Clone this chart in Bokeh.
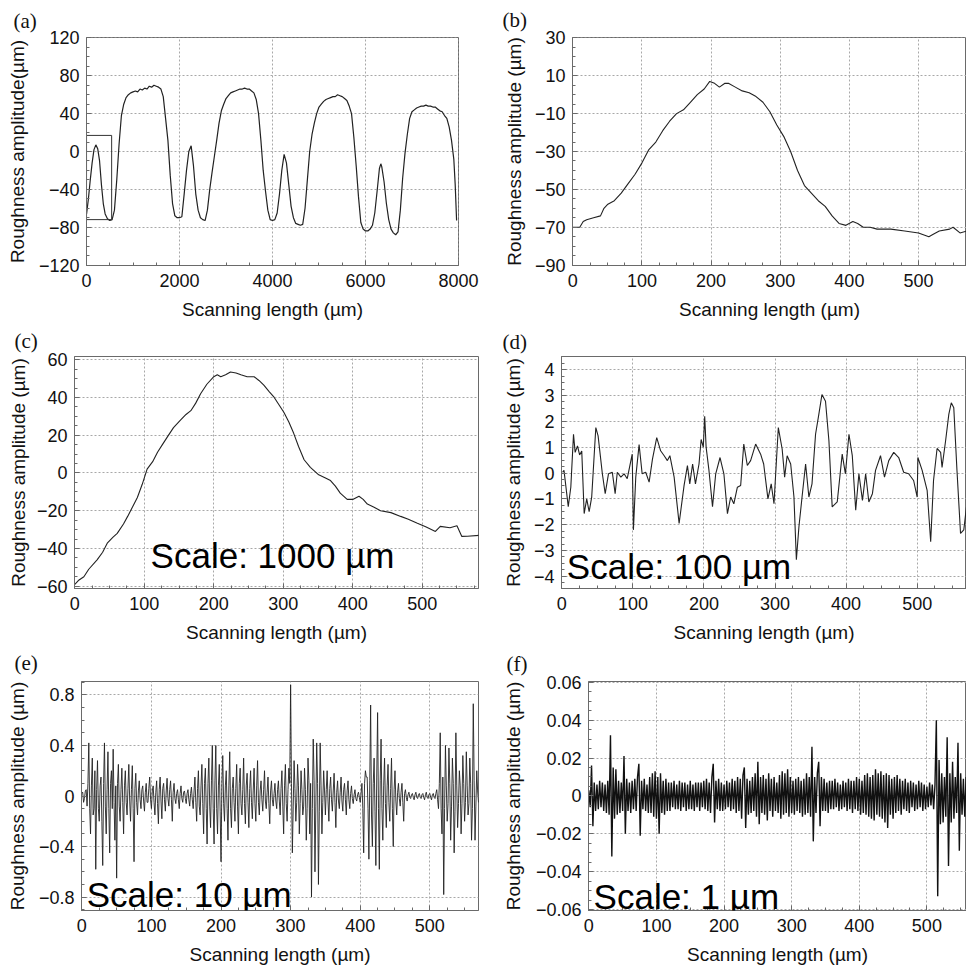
import numpy as np
from bokeh.plotting import figure
from bokeh.layouts import row, column
from bokeh.models import FixedTicker, Label, Range1d
from bokeh.embed import file_html
from bokeh.resources import INLINE

# ---------------- data ----------------
# (a) full profile, 0-8000 um
a_x = [0, 40, 80, 120, 160, 200, 240, 280, 320, 360, 400, 450, 500, 550, 600, 650, 700, 750, 800, 850,
       900, 950, 1000, 1050, 1100, 1150, 1200, 1250, 1300, 1350, 1400, 1450, 1500, 1550, 1600, 1650, 1700, 1750, 1800, 1850,
       1900, 1950, 2000, 2050, 2100, 2150, 2200, 2250, 2300, 2350, 2400, 2450, 2500, 2550, 2600, 2650, 2700, 2750, 2800, 2850,
       2900, 2950, 3000, 3050, 3100, 3150, 3200, 3250, 3300, 3350, 3400, 3450, 3500, 3550, 3600, 3650, 3700, 3750, 3800, 3850,
       3900, 3950, 4000, 4050, 4100, 4150, 4200, 4250, 4300, 4350, 4400, 4450, 4500, 4550, 4600, 4650, 4700, 4750, 4800, 4850,
       4900, 4950, 5000, 5050, 5100, 5150, 5200, 5250, 5300, 5350, 5400, 5450, 5500, 5550, 5600, 5650, 5700, 5750, 5800, 5850,
       5900, 5950, 6000, 6050, 6100, 6150, 6200, 6250, 6300, 6330, 6350, 6400, 6450, 6500, 6550, 6600, 6650, 6700, 6750, 6800,
       6850, 6900, 6950, 7000, 7050, 7100, 7150, 7200, 7250, 7300, 7350, 7400, 7450, 7500, 7550, 7600, 7650, 7700, 7750, 7800,
       7850, 7900, 7930, 7960]
a_y = [-66, -50, -30, -12, 2, 7, 3, -10, -35, -55, -66, -71, -73, -72, -62, -30, 8, 38, 50, 57,
       60, 62, 63, 64, 63, 66, 65, 67, 66, 69, 68, 70, 69, 68, 66, 58, 35, 12, -25, -55,
       -68, -70, -70, -69, -45, -20, 0, 6, -15, -45, -62, -70, -72, -73, -62, -40, -22, -5, 12, 30,
       43, 50, 56, 59, 62, 63, 64, 65, 66, 66, 67, 66, 66, 64, 62, 55, 40, 12, -20, -42,
       -62, -72, -73, -72, -65, -45, -20, -3, -12, -35, -58, -70, -76, -77, -78, -77, -60, -30, 0, 18,
       30, 40, 47, 50, 53, 55, 56, 57, 58, 58, 60, 59, 58, 56, 54, 48, 40, 15, -15, -48,
       -75, -82, -84, -84, -82, -78, -65, -42, -18, -13, -16, -32, -55, -72, -82, -86, -88, -85, -62, -28,
       -2, 18, 35, 42, 44, 46, 47, 48, 48, 49, 48, 48, 47, 47, 45, 43, 42, 38, 35, 26,
       12, -8, -35, -73]
a_box_x = [0, 540]
a_box_y = [-72, 17]
a_xticks = [0, 2000, 4000, 6000, 8000]
a_yticks = [-120, -80, -40, 0, 40, 80, 120]

# (b) zoomed profile
b_x = [0, 10, 15, 20, 30, 40, 45, 50, 60, 70, 80, 90, 100, 110, 120, 130, 140, 150, 160, 170,
       180, 190, 198, 205, 212, 220, 225, 235, 245, 255, 265, 275, 285, 295, 305, 315, 325, 335, 345, 355,
       365, 375, 385, 395, 405, 412, 420, 430, 440, 460, 480, 500, 515, 520, 530, 545, 550, 560, 570]
b_y = [-70, -70, -67, -66, -65, -64, -60, -58, -56, -52, -47, -42, -36, -29, -25, -19, -14, -10, -8, -4,
       0, 3, 7, 6, 4, 6, 6, 4, 2, 1, -1, -4, -9, -16, -22, -30, -40, -48, -52, -56,
       -59, -64, -68, -69, -67, -68, -70, -70, -71, -71, -72, -73, -75, -74, -72, -71, -70, -73, -72]
b_xticks = [0, 100, 200, 300, 400, 500]
b_yticks = [-90, -70, -50, -30, -10, 10, 30]

# (c) scale 1000 um
c_x = [0, 5, 13, 20, 32, 40, 47, 55, 61, 70, 76, 83, 90, 97, 104, 112, 119, 126, 133, 142,
       152, 160, 167, 174, 181, 190, 200, 205, 210, 217, 224, 232, 239, 248, 258, 265, 272, 280, 287, 294,
       301, 308, 315, 322, 330, 339, 351, 360, 368, 375, 382, 392, 400, 409, 415, 421, 430, 440, 455, 469,
       480, 493, 505, 519, 526, 540, 550, 557, 565, 584]
c_y = [-59, -57, -55, -51, -46, -42, -37, -34, -32, -27, -23, -18, -13, -6, 2, 6, 11, 15, 19, 24,
       28, 31, 33, 37, 42, 47, 51, 52, 51, 52, 53.5, 53, 52, 51, 51, 49, 46.5, 43, 40, 36,
       32, 27, 21, 14, 7, 3, -1, -2.5, -4, -7, -10.7, -14, -14, -12.3, -14, -16.5, -18, -20, -21, -23,
       -24.5, -26.6, -28.5, -31, -28.3, -29, -28, -33.6, -33.5, -33]
c_xticks = [0, 100, 200, 300, 400, 500]
c_yticks = [-60, -40, -20, 0, 20, 40, 60]

# (d) scale 100 um
d_x = [1, 3, 9, 12.6, 16.4, 18.7, 22, 25, 28, 31.4, 35, 38.4, 42, 47.8, 51, 57, 61, 65.6, 71, 75,
       78, 83, 87.6, 92, 99, 100.7, 104, 108.7, 113, 118, 122.8, 127.5, 133.5, 139, 144, 148.5, 152, 158, 165, 172,
       176.7, 180, 184, 188, 193, 196, 199, 201, 203, 207, 212, 216.5, 222.6, 228, 233, 237.6, 242, 247, 251.6, 256,
       261, 265.6, 272.7, 279.7, 284, 290, 294.6, 298.5, 304.6, 310, 313.5, 317, 322, 326.6, 330, 333.6, 338, 343, 347.6, 352,
       357, 361.6, 366, 371, 375.8, 380.4, 387.5, 394.5, 399, 404, 408.7, 413.5, 418, 423, 427.5, 432, 437, 441.4, 448.4, 454,
       460, 467, 474, 481, 488, 495, 500, 501, 507, 514, 519, 523, 528, 533, 535, 540, 544.5, 548, 551.5, 556,
       561, 565.6, 571]
d_y = [0.03, 0.1, -1.3, -0.55, 1.5, 0.8, 1.05, 0.7, 0.85, -1.57, -1.0, -1.5, -0.93, 1.76, 1.44, -0.03, -0.8, -0.03, 0.03, -0.8,
       0.03, -0.16, -0.03, -0.22, 0.73, -2.2, -0.16, 1.1, -0.03, 0.03, -0.35, 0.54, 1.37, 0.86, 0.67, 0.48, 0.67, -0.16, -1.95, -0.48,
       0.29, -0.42, 0.35, -0.42, 0.35, 1.3, 1.0, 2.2, 1.0, 0.1, -1.3, -0.03, 0.6, -0.03, -1.57, -0.93, -1.19, -0.55, -0.48, 1.12,
       0.29, 0.48, 1.12, 0.73, 0.35, -1.0, -0.42, -1.19, 1.76, 0.93, -0.16, 0.67, 0.35, -0.93, -3.36, -2.08, -0.93, 0.35, -0.93, -0.42,
       1.5, 2.27, 3.04, 2.78, 1.25, -1.31, -1.12, 0.73, -0.03, 1.5, 0.67, -1.44, -0.03, -1.06, -0.03, -1.12, -0.8, 0.1, 0.67, -0.16,
       0.48, 0.8, 0.6, 0.03, -0.03, -0.29, -0.93, 0.6, 0.1, -0.67, -2.66, -0.29, 0.95, 0.8, 0.22, 1.25, 2.27, 2.72, 2.53, 0.1,
       -2.34, -2.2, -0.93]
d_xticks = [0, 100, 200, 300, 400, 500]
d_yticks = [-4, -3, -2, -1, 0, 1, 2, 3, 4]

# (e) scale 10 um: readings every 2.5 um (e_peak) and at the midpoints between them (e_mid)
e_step = 2.5
e_peak = [0.02, -0.05, 0.04, -0.08,      # 0
          0.42, -0.3, 0.3, -0.1,         # 10
          -0.58, 0.28, -0.2, 0.15,       # 20
          -0.55, 0.42, -0.3, 0.35,       # 30
          -0.45, 0.2, 0.37, -0.35,       # 40
          -0.65, 0.25, -0.2, 0.22,       # 50
          -0.3, 0.2, -0.15, 0.25,        # 60
          -0.2, 0.24, -0.52, 0.18,       # 70
          -0.15, 0.12, -0.1, 0.08,       # 80
          -0.12, 0.1, -0.05, 0.15,       # 90
          -0.1, 0.08, -0.15, 0.12,       # 100
          -0.22, 0.15, -0.18, 0.1,       # 110
          -0.12, 0.14, -0.08, 0.12,      # 120
          -0.2, 0.1, -0.06, 0.05,        # 130
          -0.1, 0.08, -0.05, 0.04,       # 140
          -0.06, 0.05, -0.08, 0.07,      # 150
          -0.1, 0.15, -0.2, 0.2,         # 160
          -0.15, 0.25, -0.3, 0.22,       # 170
          -0.38, 0.3, -0.25, 0.4,        # 180
          -0.38, 0.4, -0.3, 0.25,        # 190
          -0.52, 0.32, -0.2, 0.2,        # 200
          -0.35, 0.35, -0.25, 0.15,      # 210
          -0.2, 0.25, -0.3, 0.22,        # 220
          -0.15, 0.3, -0.22, 0.18,       # 230
          -0.25, 0.2, -0.18, 0.22,       # 240
          -0.2, 0.28, -0.15, 0.12,       # 250
          -0.12, 0.2, -0.1, 0.15,        # 260
          -0.22, 0.12, -0.08, 0.1,       # 270
          -0.1, 0.12, -0.15, 0.2,        # 280
          -0.3, 0.25, -0.2, 0.22,        # 290
          0.88, -0.45, 0.28, -0.2,       # 300
          0.25, -0.3, 0.2, -0.15,        # 310
          0.22, -0.35, 0.3, -0.3,        # 320
          -0.8, 0.45, -0.6, 0.42,        # 330
          -0.7, 0.42, -0.3, 0.2,         # 340
          -0.15, 0.2, -0.2, 0.15,        # 350
          -0.12, 0.18, -0.25, 0.12,      # 360
          -0.1, 0.15, -0.12, 0.1,        # 370
          -0.15, 0.12, -0.1, 0.08,       # 380
          -0.06, 0.05, -0.04, 0.03,      # 390
          -0.05, 0.1, -0.45, 0.2,        # 400
          0.15, -0.5, 0.72, -0.4,        # 410
          0.3, -0.55, 0.66, -0.58,       # 420
          0.45, -0.35, 0.3, -0.25,       # 430
          0.25, -0.2, 0.3, -0.4,         # 440
          0.2, -0.15, 0.1, -0.08,        # 450
          0.1, -0.2, 0.05, -0.04,        # 460
          0.03, -0.02, 0.02, -0.03,      # 470
          0.03, -0.02, 0.02, -0.02,      # 480
          0.02, -0.03, 0.03, -0.02,      # 490
          0.02, -0.03, 0.02, -0.02,      # 500
          0.05, -0.1, 0.5, -0.3,         # 510
          -0.78, 0.4, -0.2, 0.38,        # 520
          -0.35, 0.3, -0.45, 0.5,        # 530
          -0.25, 0.2, -0.3, 0.32,        # 540
          -0.2, 0.35, -0.15, 0.3,        # 550
          -0.35, 0.73, -0.35, 0.2,       # 560
          -0.05, 0.02]                   # 570
e_mid = [0.03, -0.02, 0.05, 0.1,         # 0
         -0.1, 0.08, -0.15, 0.2,         # 10
         0.05, -0.1, 0.08, -0.2,         # 20
         0.1, -0.08, 0.05, -0.1,         # 30
         0.1, -0.1, -0.05, 0.08,         # 40
         0.1, -0.08, 0.05, -0.05,        # 50
         0.08, -0.05, 0.06, -0.04,       # 60
         0.05, -0.1, 0.06, -0.05,        # 70
         0.04, -0.03, 0.05, -0.04,       # 80
         0.03, -0.05, 0.06, -0.03,       # 90
         0.04, -0.05, 0.03, -0.06,       # 100
         0.05, -0.04, 0.06, -0.03,       # 110
         0.04, -0.02, 0.05, -0.03,       # 120
         0.03, -0.02, 0.02, -0.03,       # 130
         0.02, -0.02, 0.03, -0.02,       # 140
         0.02, -0.03, 0.02, -0.03,       # 150
         0.04, -0.05, 0.06, -0.08,       # 160
         0.08, -0.06, 0.1, -0.1,         # 170
         0.1, -0.08, 0.12, -0.1,         # 180
         0.12, -0.1, 0.08, -0.12,        # 190
         0.1, -0.06, 0.08, -0.1,         # 200
         0.08, -0.1, 0.06, -0.05,        # 210
         0.06, -0.08, 0.1, -0.06,        # 220
         0.05, -0.06, 0.08, -0.05,       # 230
         0.06, -0.05, 0.04, -0.06,       # 240
         0.08, -0.05, 0.04, -0.03,       # 250
         0.05, -0.04, 0.03, -0.06,       # 260
         0.04, -0.03, 0.02, -0.04,       # 270
         0.05, -0.04, 0.06, -0.08,       # 280
         0.08, -0.06, 0.05, 0.1,         # 290
         0.1, -0.08, 0.06, -0.05,        # 300
         0.08, -0.06, 0.05, -0.08,       # 310
         0.05, -0.1, 0.12, 0.1,          # 320
         -0.1, 0.12, -0.08, 0.1,         # 330
         -0.12, 0.08, -0.05, 0.04,       # 340
         0.05, -0.04, 0.06, -0.03,       # 350
         0.04, -0.05, 0.03, -0.04,       # 360
         0.03, -0.04, 0.05, -0.03,       # 370
         0.04, -0.03, 0.02, -0.02,       # 380
         0.01, -0.02, 0.01, -0.01,       # 390
         0.02, -0.1, 0.1, 0.15,          # 400
         -0.1, 0.12, -0.15, 0.1,         # 410
         -0.12, 0.15, -0.1, 0.12,        # 420
         -0.1, 0.08, -0.06, 0.08,        # 430
         -0.05, 0.06, -0.1, 0.05,        # 440
         -0.04, 0.03, -0.02, 0.03,       # 450
         -0.05, 0.02, -0.01, 0.01,       # 460
         -0.01, 0.01, -0.01, 0.01,       # 470
         -0.01, 0.01, -0.01, 0.01,       # 480
         -0.01, 0.01, -0.01, 0.01,       # 490
         -0.01, 0.01, -0.01, 0.02,       # 500
         -0.03, 0.1, -0.1, 0.15,         # 510
         -0.1, 0.08, -0.06, 0.1,         # 520
         -0.08, 0.1, -0.12, 0.08,        # 530
         -0.06, 0.08, -0.06, 0.1,        # 540
         -0.05, 0.08, -0.06, 0.1,        # 550
         -0.1, 0.12, -0.08, 0.04,        # 560
         -0.02, 0.01]                    # 570
e_xticks = [0, 100, 200, 300, 400, 500]
e_yticks = [-0.8, -0.4, 0, 0.4, 0.8]

# (f) scale 1 um, sampled every 2 um, amplitude in nm
f_step = 2.0
f_nm = [3, -6, 16, -16, 7,         # 0
        -8, 6, -7, 8, -6,          # 10
        7, -8, 6, -9, 8,           # 20
        -10, 32, -32, 15, -12,     # 30
        14, -10, 8, -9, 7,         # 40
        -8, 21, -20, 9, -8,        # 50
        7, -9, 8, -7, 9,           # 60
        -8, 10, 17, -21, 8,        # 70
        -7, 9, -8, 6, -9,          # 80
        10, -9, 12, -11, 13,       # 90
        -12, 10, -20, 12, -9,      # 100
        8, -10, 9, -8, 7,          # 110
        -8, 7, -6, 8, -7,          # 120
        6, -7, 8, -8, 7,           # 130
        -6, 7, -8, 6, -7,          # 140
        8, -7, 6, -8, 7,           # 150
        -6, 7, -8, 7, -6,          # 160
        8, -7, 9, -8, 7,           # 170
        -9, 10, 17, -14, 8,        # 180
        -7, 9, -8, 7, -8,          # 190
        6, -7, 8, -6, 7,           # 200
        -8, 9, -7, 8, -9,          # 210
        10, -8, 9, -12, 11,        # 220
        15, -17, 9, -10, 8,        # 230
        -9, 10, -8, 12, -11,       # 240
        18, -15, 10, -9, 11,       # 250
        -10, 9, -13, 12, -8,       # 260
        9, -11, 10, -8, 7,         # 270
        -9, 11, -12, 13, -10,      # 280
        12, -9, 14, -11, 10,       # 290
        -9, 8, -10, 9, -8,         # 300
        10, -9, 8, -11, 9,         # 310
        -10, 12, -9, 10, -11,      # 320
        26, -24, 10, -9, 12,       # 330
        18, -16, 10, -8, 9,        # 340
        -8, 7, -9, 8, -7,          # 350
        8, -7, 9, -6, 7,           # 360
        -8, 6, -7, 8, -6,          # 370
        7, -8, 9, -7, 8,           # 380
        -9, 8, -7, 10, -8,         # 390
        9, -10, 8, -9, 11,         # 400
        -10, 12, -11, 10, -12,     # 410
        11, -13, 14, -10, 12,      # 420
        -11, 13, -12, 11, -14,     # 430
        12, -17, 11, -10, 9,       # 440
        -12, 10, -9, 11, -8,       # 450
        9, -10, 8, -7, 9,          # 460
        -8, 7, -9, 8, -6,          # 470
        7, -8, 6, -7, 8,           # 480
        -6, 7, -8, 6, -7,          # 490
        5, -6, 7, -5, 6,           # 500
        -7, 6, 40, -53, 19,        # 510
        -15, 12, -14, 10, -11,     # 520
        31, -37, 12, -14, 18,      # 530
        -12, 10, -9, 28, -29,      # 540
        12, -10, 9, -11, 10]       # 550
f_xticks = [0, 100, 200, 300, 400, 500]
f_yticks = [-0.06, -0.04, -0.02, 0, 0.02, 0.04, 0.06]

X_LABEL = "Scanning length (µm)"
Y_LABEL = "Roughness amplitude (µm)"

LINE = "#222222"
FRAME = "#6a6a6a"
FONT = "Liberation Sans"


def minor(ticks, lo, hi, n=4):
    step = (ticks[1] - ticks[0]) / n
    vals = np.arange(ticks[0] - 4 * step * n, ticks[-1] + 4 * step * n, step)
    return [float(v) for v in vals if lo <= v <= hi and not any(abs(v - t) < 1e-9 for t in ticks)]


def panel(w, h, bl, br, bt, bb, xr, yr, xt, yt, ylabel, ystand, tag, tag_off, tag_stand):
    p = figure(width=w, height=h, x_range=Range1d(*xr), y_range=Range1d(*yr),
               output_backend="svg", toolbar_location=None, title=tag,
               min_border_left=bl, min_border_right=br, min_border_top=bt, min_border_bottom=bb)
    p.outline_line_color = FRAME
    p.outline_line_width = 1
    p.background_fill_color = "white"
    p.border_fill_color = "white"
    xtk = FixedTicker(ticks=xt, minor_ticks=minor(xt, xr[0], xr[1]))
    ytk = FixedTicker(ticks=yt, minor_ticks=minor(yt, yr[0], yr[1]))
    p.xaxis.ticker = xtk
    p.yaxis.ticker = ytk
    p.xgrid.ticker = xtk
    p.ygrid.ticker = ytk
    for ax in (p.xaxis[0], p.yaxis[0]):
        ax.axis_line_color = FRAME
        ax.major_tick_in = 5
        ax.major_tick_out = 0
        ax.minor_tick_in = 3
        ax.minor_tick_out = 0
        ax.major_tick_line_color = FRAME
        ax.minor_tick_line_color = FRAME
        ax.major_label_text_font = FONT
        ax.major_label_text_font_size = "18px"
        ax.major_label_text_color = "#111111"
        ax.axis_label_text_font = FONT
        ax.axis_label_text_font_size = "19px"
        ax.axis_label_text_font_style = "normal"
        ax.axis_label_text_color = "#111111"
    p.xaxis.major_label_standoff = 8
    p.yaxis.major_label_standoff = 7
    p.xaxis.axis_label = X_LABEL
    p.xaxis.axis_label_standoff = 9
    p.yaxis.axis_label = ylabel
    p.yaxis.axis_label_standoff = ystand
    p.yaxis.major_label_overrides = {0: "0"}
    p.grid.grid_line_color = "#a8a8a8"
    p.grid.grid_line_dash = "2 2"
    p.grid.grid_line_width = 1
    t = p.title
    t.text_font = "Liberation Serif"
    t.text_font_size = "21px"
    t.text_font_style = "normal"
    t.text_color = "#111111"
    t.align = "left"
    t.vertical_align = "top"
    t.offset = tag_off
    t.standoff = tag_stand
    return p


def scale_label(p, x, y, text):
    p.add_layout(Label(x=x, y=y, text=text, text_font=FONT, text_font_size="35px",
                       text_baseline="middle", text_align="left", text_color="#000000"))


# (a)
pa = panel(480, 325, 86, 22, 37, 60, (-1, 8001), (-120.5, 120.5), a_xticks, a_yticks,
           "Roughness amplitude(µm)", 8, "(a)", -73, 6)
pa.line(a_x, a_y, line_color=LINE, line_width=1.2)
pa.quad(left=[a_box_x[0]], right=[a_box_x[1]], bottom=[a_box_y[0]], top=[a_box_y[1]],
        fill_color=None, line_color="#333333", line_width=1)

# (b)
pb = panel(486, 325, 92, 0, 36, 60, (-0.5, 569.4), (-90.2, 30.2), b_xticks, b_yticks,
           Y_LABEL, 7, "(b)", -70, 8)
pb.line(b_x, b_y, line_color=LINE, line_width=1.1)

# (c)
pc = panel(480, 320, 74, 2, 31, 56, (-0.5, 581), (-61.2, 61.7), c_xticks, c_yticks,
           Y_LABEL, 5, "(c)", -60, 4)
pc.line(c_x, c_y, line_color=LINE, line_width=1.1)
scale_label(pc, 109, -43.8, "Scale: 1000 µm")

# (d)
pd = panel(486, 320, 81, 0, 30, 56, (-0.5, 569.4), (-4.47, 4.51), d_xticks, d_yticks,
           Y_LABEL, 7, "(d)", -59, 2)
pd.line(d_x, d_y, line_color=LINE, line_width=1.1)
scale_label(pd, 7, -3.63, "Scale: 100 µm")

# (e)
e_x = []
e_y = []
for i in range(len(e_peak)):
    e_x += [i * e_step, i * e_step + e_step / 2]
    e_y += [e_peak[i], e_mid[i]]
pe = panel(480, 329, 81, 2, 32, 62, (-0.5, 570), (-0.906, 0.906), e_xticks, e_yticks,
           Y_LABEL, 8, "(e)", -67, 10)
pe.line(e_x, e_y, line_color=LINE, line_width=0.9)
scale_label(pe, 7, -0.783, "Scale: 10 µm")

# (f)
f_x = [i * f_step for i in range(len(f_nm))]
f_y = [v / 1000.0 for v in f_nm]   # nm -> um
pf = panel(486, 329, 108, 0, 32, 64, (-0.5, 558.6), (-0.0605, 0.0604), f_xticks, f_yticks,
           Y_LABEL, 9, "(f)", -82, 8)
pf.line(f_x, f_y, line_color="#111111", line_width=1.4)
scale_label(pf, 7, -0.0532, "Scale: 1 µm")

layout = column(row(pa, pb), row(pc, pd), row(pe, pf))

open("out.html", "w").write(file_html(layout, INLINE))
